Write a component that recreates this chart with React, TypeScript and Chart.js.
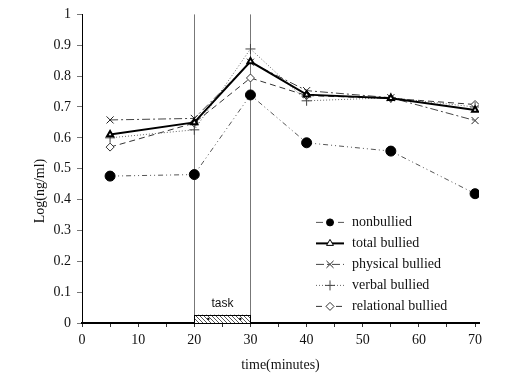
import React, { useEffect, useRef } from "react";
import { Chart, registerables } from "chart.js";
import { drawPoint } from "chart.js/helpers";

Chart.register(...registerables);

const TIMES = [5, 20, 30, 40, 55, 70];
const SERIES_LABELS = ["nonbullied", "total bullied", "physical bullied", "verbal bullied", "relational bullied"];
const NONBULLIED = [0.476, 0.481, 0.739, 0.584, 0.557, 0.419];
const TOTAL = [0.611, 0.65, 0.847, 0.74, 0.728, 0.69];
const PHYSICAL = [0.658, 0.663, 0.845, 0.753, 0.73, 0.656];
const VERBAL = [0.6, 0.626, 0.888, 0.72, 0.73, 0.7];
const RELATIONAL = [0.57, 0.648, 0.794, 0.737, 0.728, 0.708];
const TASK_START = 20;
const TASK_END = 30;
const TASK_HEIGHT = 0.027;
const TASK_LABEL = "task";
const X_TICKS = [0, 5, 10, 15, 20, 25, 30, 35, 40, 45, 50, 55, 60, 65, 70];
const X_TITLE = "time(minutes)";
const Y_TITLE = "Log(ng/ml)";

const SERIF = "'Liberation Serif', 'Times New Roman', serif";
const SANS = "'Liberation Sans', Arial, sans-serif";

function toPoints(vals: number[]) {
  return vals.map((v, i) => ({ x: TIMES[i], y: v }));
}

function makeHatch(ctx: CanvasRenderingContext2D) {
  const c = document.createElement("canvas");
  c.width = 4;
  c.height = 4;
  const g = c.getContext("2d")!;
  g.fillStyle = "#fff";
  g.fillRect(0, 0, 4, 4);
  g.strokeStyle = "#555";
  g.lineWidth = 1;
  g.beginPath();
  g.moveTo(0, 0);
  g.lineTo(4, 4);
  g.moveTo(-1, 3);
  g.lineTo(1, 5);
  g.moveTo(3, -1);
  g.lineTo(5, 1);
  g.stroke();
  return ctx.createPattern(c, "repeat");
}

const decorPlugin = {
  id: "decor",
  beforeDatasetsDraw(chart: any) {
    const { ctx, chartArea, scales } = chart;
    const x = scales.x;
    const y = scales.y;
    const xs = x.getPixelForValue(TASK_START);
    const xe = x.getPixelForValue(TASK_END);
    ctx.save();
    ctx.strokeStyle = "#777";
    ctx.lineWidth = 1;
    ctx.beginPath();
    for (const xp of [xs, xe]) {
      ctx.moveTo(Math.round(xp) + 0.5, chartArea.top);
      ctx.lineTo(Math.round(xp) + 0.5, chartArea.bottom);
    }
    ctx.stroke();
    const top = y.getPixelForValue(TASK_HEIGHT);
    const bottom = y.getPixelForValue(0);
    ctx.fillStyle = makeHatch(ctx) || "#ccc";
    ctx.fillRect(xs, top, xe - xs, bottom - top);
    ctx.strokeStyle = "#000";
    ctx.strokeRect(Math.round(xs) + 0.5, Math.round(top) + 0.5, Math.round(xe - xs), Math.round(bottom - top));
    ctx.fillStyle = "#000";
    const midY = (top + bottom) / 2;
    for (const t of [TASK_START + 2.5, TASK_END - 1.8]) {
      ctx.fillRect(x.getPixelForValue(t) - 1, midY - 1, 2, 2);
    }
    ctx.fillStyle = "#111";
    ctx.font = `12px ${SANS}`;
    ctx.textAlign = "center";
    ctx.textBaseline = "middle";
    ctx.fillText(TASK_LABEL, (xs + xe) / 2, top - 11);
    ctx.restore();
  },
  afterDraw(chart: any) {
    const { ctx, chartArea } = chart;
    ctx.save();
    ctx.fillStyle = "#111";
    ctx.font = `14px ${SERIF}`;
    ctx.textAlign = "center";
    ctx.textBaseline = "middle";
    ctx.fillText(X_TITLE, (chartArea.left + chartArea.right) / 2, 365);
    ctx.save();
    ctx.translate(40, 191);
    ctx.rotate(-Math.PI / 2);
    ctx.fillText(Y_TITLE, 0, 0);
    ctx.restore();
    const lx0 = chartArea.left + 234;
    const lx1 = lx0 + 28;
    const ly0 = chartArea.top + 208;
    chart.data.datasets.forEach((ds: any, i: number) => {
      const yy = ly0 + i * 21;
      ctx.save();
      ctx.strokeStyle = ds.borderColor;
      ctx.lineWidth = ds.borderWidth;
      ctx.setLineDash(ds.legendDash || ds.borderDash || []);
      ctx.beginPath();
      ctx.moveTo(lx0, yy);
      ctx.lineTo(lx1, yy);
      ctx.stroke();
      ctx.setLineDash([]);
      ctx.fillStyle = ds.pointBackgroundColor;
      ctx.strokeStyle = ds.pointBorderColor;
      ctx.lineWidth = 1;
      drawPoint(ctx, { pointStyle: ds.pointStyle, radius: ds.legendRadius || ds.pointRadius, borderWidth: 1, rotation: 0 }, (lx0 + lx1) / 2, yy);
      ctx.restore();
      ctx.fillStyle = "#111";
      ctx.font = `14px ${SERIF}`;
      ctx.textAlign = "left";
      ctx.textBaseline = "middle";
      ctx.fillText(ds.label, lx1 + 8, yy);
    });
    ctx.restore();
  },
};

export default function App() {
  const ref = useRef<HTMLCanvasElement | null>(null);
  useEffect(() => {
    if (!ref.current) return;
    const chart = new Chart(ref.current, {
      type: "line",
      data: {
        datasets: [
          {
            label: SERIES_LABELS[0],
            data: toPoints(NONBULLIED),
            borderColor: "#555",
            borderWidth: 1,
            borderDash: [5, 3, 1, 3, 1, 3],
            legendDash: [7, 4],
            pointStyle: "circle",
            pointRadius: 5,
            legendRadius: 3.5,
            pointBackgroundColor: "#000",
            pointBorderColor: "#000",
          } as any,
          {
            label: SERIES_LABELS[1],
            data: toPoints(TOTAL),
            borderColor: "#000",
            borderWidth: 2,
            pointStyle: "triangle",
            pointRadius: 3.5,
            pointBackgroundColor: "#fff",
            pointBorderColor: "#000",
            legendRadius: 4,
          } as any,
          {
            label: SERIES_LABELS[2],
            data: toPoints(PHYSICAL),
            borderColor: "#444",
            borderWidth: 1,
            borderDash: [8, 3, 2, 3],
            pointStyle: "crossRot",
            pointRadius: 5,
            pointBackgroundColor: "#fff",
            pointBorderColor: "#222",
          } as any,
          {
            label: SERIES_LABELS[3],
            data: toPoints(VERBAL),
            borderColor: "#666",
            borderWidth: 1,
            borderDash: [1, 2],
            pointStyle: "cross",
            pointRadius: 5,
            pointBackgroundColor: "#fff",
            pointBorderColor: "#444",
          } as any,
          {
            label: SERIES_LABELS[4],
            data: toPoints(RELATIONAL),
            borderColor: "#333",
            borderWidth: 1,
            borderDash: [6, 4],
            pointStyle: "rectRot",
            pointRadius: 4,
            pointBackgroundColor: "#fff",
            pointBorderColor: "#333",
          } as any,
        ],
      },
      options: {
        responsive: false,
        animation: false,
        events: [],
        layout: { padding: { top: 14, right: 34, left: 0, bottom: 0 } },
        plugins: { legend: { display: false }, tooltip: { enabled: false }, title: { display: false } },
        elements: { line: { tension: 0 } },
        scales: {
          x: {
            type: "linear",
            min: 0,
            max: 70.7,
            afterBuildTicks: (scale: any) => {
              scale.ticks = X_TICKS.map((v) => ({ value: v }));
            },
            afterFit: (scale: any) => {
              scale.height = 60;
            },
            grid: { drawOnChartArea: false, drawTicks: true, tickLength: 4, color: "#333" },
            border: { display: true, color: "#000", width: 2 },
            ticks: {
              autoSkip: false,
              maxRotation: 0,
              padding: 5,
              color: "#111",
              font: { family: SERIF, size: 14 },
              callback: (v: any) => (Number(v) % 10 === 0 ? String(v) : ""),
            },
          },
          y: {
            type: "linear",
            min: 0,
            max: 1,
            afterFit: (scale: any) => {
              scale.width = 82;
            },
            grid: { drawOnChartArea: false, drawTicks: true, tickLength: 5, color: "#777" },
            border: { display: true, color: "#000", width: 1 },
            ticks: {
              stepSize: 0.1,
              padding: 6,
              color: "#111",
              font: { family: SERIF, size: 14 },
              callback: (v: any) => String(Number(Number(v).toFixed(1))),
            },
          },
        },
      },
      plugins: [decorPlugin],
    });
    return () => chart.destroy();
  }, []);
  return (
    <div style={{ position: "absolute", left: 0, top: 0, width: 513, height: 383, background: "#fff" }}>
      <canvas ref={ref} width={513} height={383} style={{ display: "block" }} />
    </div>
  );
}
